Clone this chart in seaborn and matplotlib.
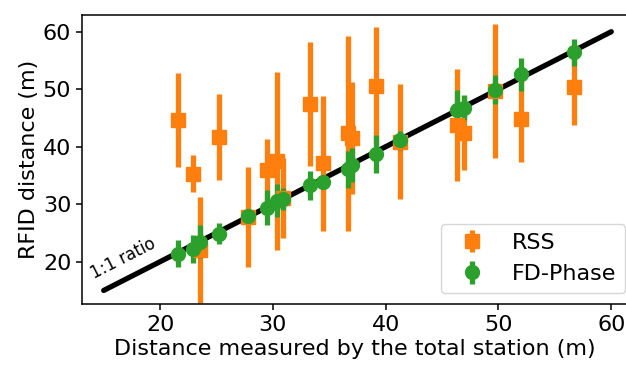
import numpy as np
import pandas as pd
import seaborn as sb
import matplotlib
matplotlib.use("Agg")
import matplotlib.pyplot as plt

# distances from the total station (m), shared by both methods
true_dist = [21.6, 22.9, 23.55, 25.2, 27.8, 29.5, 30.4, 30.9, 33.3, 34.4,
             36.7, 37.0, 39.1, 41.3, 46.3, 46.9, 49.7, 52.0, 56.7]

# RSS estimate and its spread
rss_dist = [44.6, 35.3, 22.1, 41.7, 27.8, 35.9, 37.5, 31.1, 47.4, 37.1,
            42.3, 41.5, 50.6, 40.9, 43.8, 42.4, 49.7, 44.8, 50.4]
rss_err = [8.2, 3.2, 9.2, 7.5, 8.7, 5.5, 15.5, 7.0, 10.8, 11.7,
           16.9, 9.8, 10.2, 10.0, 9.8, 6.4, 11.6, 7.4, 6.6]

# FD-Phase estimate and its spread
phase_dist = [21.4, 22.2, 23.5, 24.9, 27.9, 29.4, 30.6, 30.9, 33.3, 33.9,
              36.1, 36.8, 38.7, 41.1, 46.4, 46.8, 49.9, 52.6, 56.4]
phase_err = [2.3, 2.5, 2.8, 1.8, 1.0, 3.0, 2.9, 1.9, 2.5, 1.2,
             3.2, 2.9, 3.3, 1.6, 3.5, 2.2, 2.5, 2.9, 2.4]

ratio_x = [15, 60]

sb.set_style("ticks", {'axes.edgecolor': 'black', 'text.color': 'black',
                       'xtick.color': 'black', 'ytick.color': 'black',
                       'axes.labelcolor': 'black'})
plt.rcParams['font.family'] = ['DejaVu Sans']

fig = plt.figure(figsize=(6.26, 3.67), dpi=100)
# axes run a little past the right edge, like the cropped original
ax = fig.add_axes([0.1305, 0.171, 0.873, 0.788])

# 1:1 reference line
ratio = pd.DataFrame({'x': ratio_x, 'y': ratio_x})
sb.lineplot(data=ratio, x='x', y='y', color='black', linewidth=3.8, ax=ax, legend=False)
ax.text(14.3, 16.4, '1:1 ratio', rotation=27, fontsize=12, ha='left', va='bottom',
        rotation_mode='anchor')

ax.errorbar(true_dist, rss_dist, yerr=rss_err, fmt='s', color='#ff7f0e', markersize=10,
            elinewidth=3.8, capsize=0, label='RSS')
ax.errorbar(true_dist, phase_dist, yerr=phase_err, fmt='o', color='#2ca02c', markersize=10,
            elinewidth=3.8, capsize=0, label='FD-Phase')

ax.set_xlim(13.05, 61.5)
ax.set_ylim(12.6, 62.9)
ax.set_xticks([20, 30, 40, 50, 60])
ax.set_yticks([20, 30, 40, 50, 60])
ax.tick_params(labelsize=16, length=4, width=1.1)
for s in ax.spines.values():
    s.set_linewidth(1.1)

ax.set_xlabel('Distance measured by the total station (m)', fontsize=16, labelpad=3)
ax.set_ylabel('RFID distance (m)', fontsize=16, labelpad=3)

ax.legend(loc='lower right', fontsize=16, handlelength=2.0, borderpad=0.4,
          bbox_to_anchor=(1.0145, 0.0))

fig.savefig('out.png', dpi=100)
